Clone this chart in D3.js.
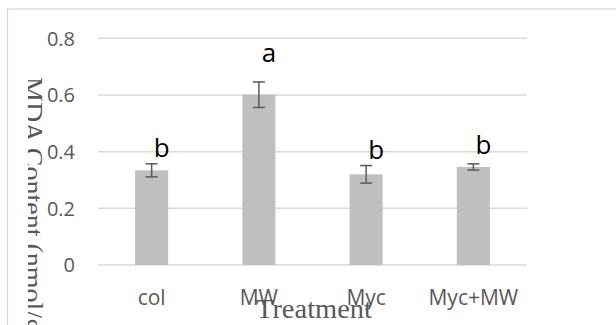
<!DOCTYPE html>
<html>
<head>
<meta charset="utf-8">
<script src="https://cdn.jsdelivr.net/npm/d3@7"></script>
<style>
  body { margin: 0; background: #fff; }
  svg { display: block; }
</style>
</head>
<body>
<div id="chart"></div>
<script>
    var width = 616,
        height = 325;

    // data
    var treatments = ['col', 'MW', 'Myc', 'Myc+MW'];
    var mdaMean = [0.334, 0.601, 0.320, 0.346];
    var mdaErr = [0.023, 0.045, 0.031, 0.011];
    var groupLetters = ['b', 'a', 'b', 'b'];
    var letterAt = [0.381, 0.715, 0.375, 0.390];
    var yTicks = [0, 0.2, 0.4, 0.6, 0.8];
    var yTickLabels = ['0', '0.2', '0.4', '0.6', '0.8'];

    var svg = d3.select('#chart').append('svg')
        .attr('width', width)
        .attr('height', height);

    // chart area border (runs off the right/bottom edge)
    svg.append('rect')
        .attr('x', 7.5).attr('y', 9)
        .attr('width', 640).attr('height', 340)
        .attr('fill', 'none')
        .attr('stroke', '#d9d9d9')
        .attr('stroke-width', 1.3);

    var x = d3.scaleBand()
        .domain(treatments)
        .range([98, 527])
        .paddingInner(0.692)
        .paddingOuter(0.346);

    var y = d3.scaleLinear()
        .domain([0, 0.8])
        .range([265, 38.3]);

    // gridlines
    svg.append('g').selectAll('line')
        .data(yTicks)
        .enter().append('line')
        .attr('x1', 98).attr('x2', 527)
        .attr('y1', function(d){ return y(d); })
        .attr('y2', function(d){ return y(d); })
        .attr('stroke', '#d9d9d9')
        .attr('stroke-width', 1.5);

    // y tick labels
    svg.append('g').selectAll('text')
        .data(yTicks)
        .enter().append('text')
        .attr('x', 75)
        .attr('y', function(d){ return y(d); })
        .attr('dy', '0.36em')
        .attr('text-anchor', 'end')
        .attr('font-family', 'Open Sans, sans-serif')
        .attr('font-size', 20)
        .attr('fill', '#595959')
        .text(function(d, i){ return yTickLabels[i]; });

    // bars
    svg.append('g').selectAll('rect')
        .data(treatments)
        .enter().append('rect')
        .attr('x', function(d){ return x(d); })
        .attr('width', x.bandwidth())
        .attr('y', function(d, i){ return y(mdaMean[i]); })
        .attr('height', function(d, i){ return y(0) - y(mdaMean[i]); })
        .attr('fill', '#bfbfbf');

    // error bars
    var eb = svg.append('g')
        .attr('stroke', '#595959')
        .attr('stroke-width', 1.5);
    treatments.forEach(function(t, i){
        var cx = x(t) + x.bandwidth() / 2;
        var top = y(mdaMean[i] + mdaErr[i]),
            bot = y(mdaMean[i] - mdaErr[i]);
        eb.append('line').attr('x1', cx).attr('x2', cx).attr('y1', top).attr('y2', bot);
        eb.append('line').attr('x1', cx - 6).attr('x2', cx + 6).attr('y1', top).attr('y2', top);
        eb.append('line').attr('x1', cx - 6).attr('x2', cx + 6).attr('y1', bot).attr('y2', bot);
    });

    // significance letters
    svg.append('g').selectAll('text')
        .data(treatments)
        .enter().append('text')
        .attr('x', function(d){ return x(d) + x.bandwidth() / 2 + 10; })
        .attr('y', function(d, i){ return y(letterAt[i]); })
        .attr('text-anchor', 'middle')
        .attr('font-family', 'Open Sans, sans-serif')
        .attr('font-size', 26)
        .attr('fill', '#000')
        .text(function(d, i){ return groupLetters[i]; });

    // category labels
    svg.append('g').selectAll('text')
        .data(treatments)
        .enter().append('text')
        .attr('x', function(d){ return x(d) + x.bandwidth() / 2; })
        .attr('y', 305)
        .attr('text-anchor', 'middle')
        .attr('font-family', 'Open Sans, sans-serif')
        .attr('font-size', 21)
        .attr('fill', '#595959')
        .text(function(d){ return d; });

    // x axis title (overlaps the category labels, as in the original)
    svg.append('text')
        .attr('x', 314)
        .attr('y', 317.7)
        .attr('text-anchor', 'middle')
        .attr('font-family', 'Liberation Serif, Times New Roman, serif')
        .attr('font-size', 27)
        .attr('textLength', 116)
        .attr('lengthAdjust', 'spacingAndGlyphs')
        .attr('fill', '#595959')
        .text('Treatment');

    // y axis title, clipped like in the original
    svg.append('clipPath').attr('id', 'yclip')
        .append('rect').attr('x', 28).attr('y', 0).attr('width', 40).attr('height', height);

    svg.append('g').attr('clip-path', 'url(#yclip)')
        .append('text')
        .attr('transform', 'translate(24,77) rotate(90)')
        .attr('font-family', 'Liberation Serif, Times New Roman, serif')
        .attr('font-size', 28)
        .attr('fill', '#595959')
        .text('MDA Content (nmol/g FW)');
</script>
</body>
</html>
